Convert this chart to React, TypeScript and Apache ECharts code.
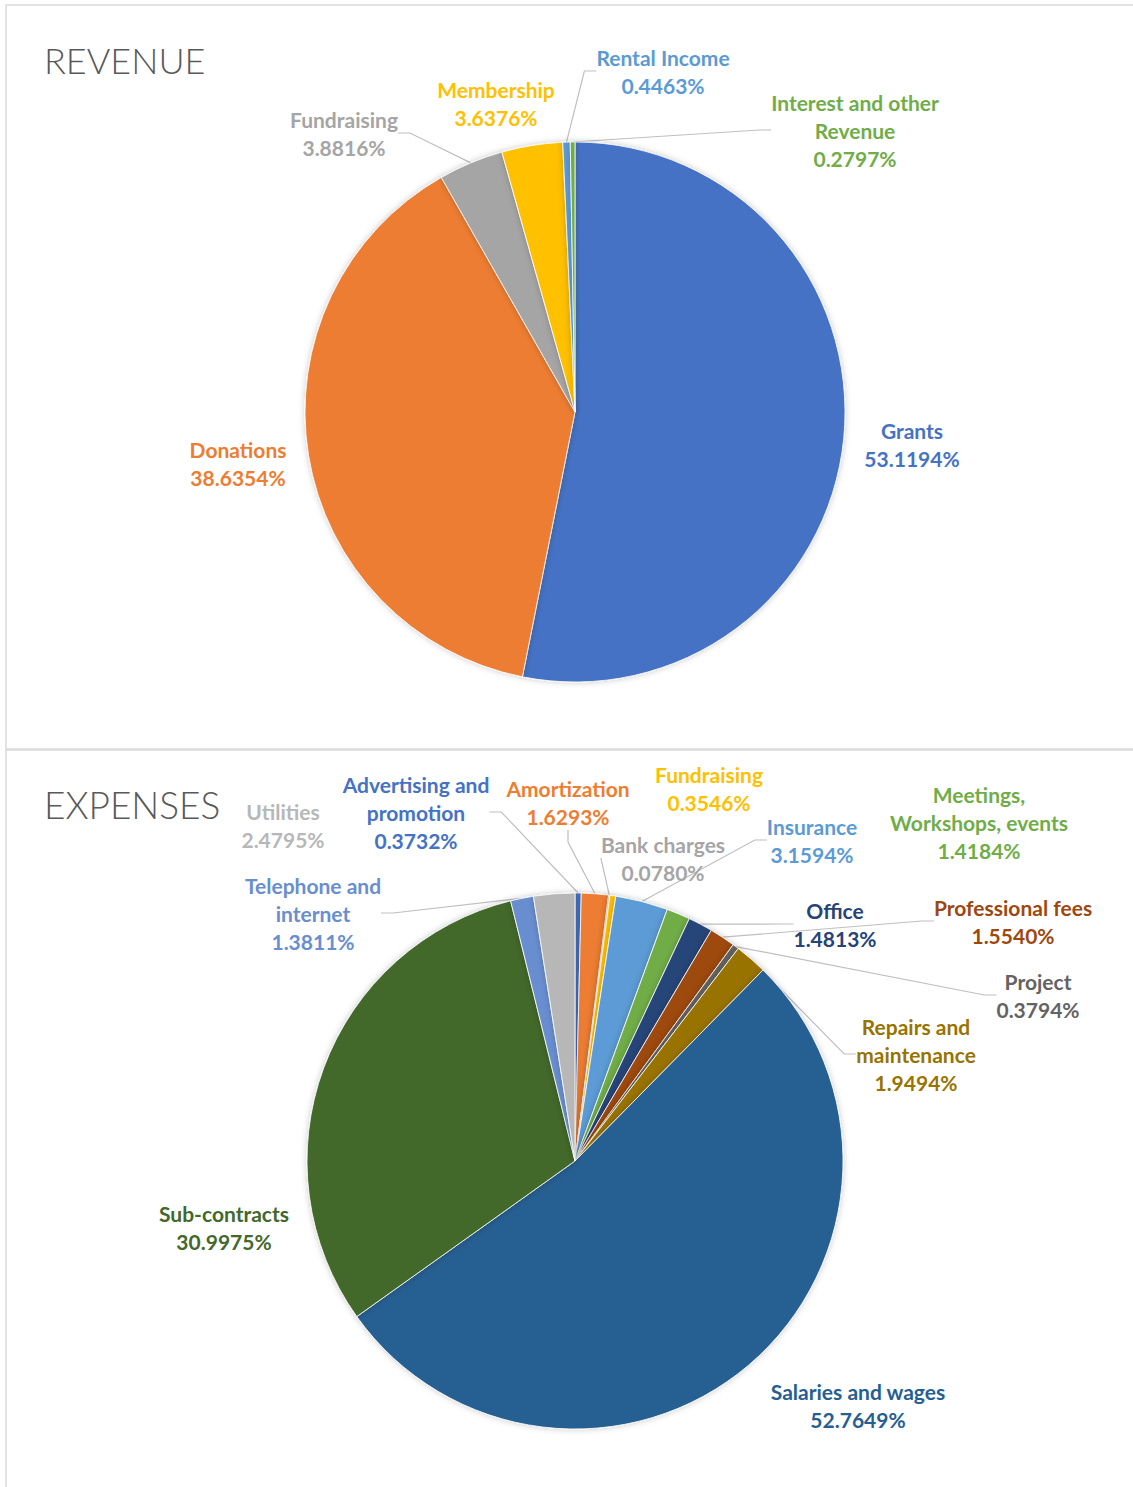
import React, { useEffect, useRef } from "react";
import * as echarts from "echarts";

// ---------- Revenue data ----------
const revenueCategories = [
  "Grants",
  "Donations",
  "Fundraising",
  "Membership",
  "Rental Income",
  "Interest and other Revenue",
];
const revenueValues = [53.1194, 38.6354, 3.8816, 3.6376, 0.4463, 0.2797];
const revenueColors = ["#4472C4", "#ED7D31", "#A5A5A5", "#FFC000", "#5B9BD5", "#70AD47"];

// ---------- Expense data ----------
const expenseCategories = [
  "Advertising and promotion",
  "Amortization",
  "Bank charges",
  "Fundraising",
  "Insurance",
  "Meetings, Workshops, events",
  "Office",
  "Professional fees",
  "Project",
  "Repairs and maintenance",
  "Salaries and wages",
  "Sub-contracts",
  "Telephone and internet",
  "Utilities",
];
const expenseValues = [
  0.3732, 1.6293, 0.078, 0.3546, 3.1594, 1.4184, 1.4813, 1.554, 0.3794, 1.9494, 52.7649,
  30.9975, 1.3811, 2.4795,
];
const expenseColors = [
  "#4472C4",
  "#ED7D31",
  "#A5A5A5",
  "#FFC000",
  "#5B9BD5",
  "#70AD47",
  "#264478",
  "#9E480E",
  "#636363",
  "#997300",
  "#255E91",
  "#43682B",
  "#698ED0",
  "#B7B7B7",
];

// ---------- Label layout (positions of label blocks, not data) ----------
const revenueLabelPos = [
  [912, 444],
  [238, 463],
  [344, 133],
  [496, 103],
  [663, 71],
  [855, 130],
];
const revenueShowLine = [false, false, true, false, true, true];

const expenseLabelPos = [
  [416, 812],
  [568, 802],
  [663, 858],
  [709, 788],
  [812, 840],
  [979, 822],
  [835, 924],
  [1013, 921],
  [1038, 995],
  [916, 1054],
  [858, 1405],
  [224, 1227],
  [313, 913],
  [283, 825],
];
const expenseShowLine = [
  true, true, true, false, true, false, true, true, true, true, false, false, true, false,
];

const WRAP: Record<string, string> = {
  "Interest and other Revenue": "Interest and other\nRevenue",
  "Advertising and promotion": "Advertising and\npromotion",
  "Meetings, Workshops, events": "Meetings,\nWorkshops, events",
  "Repairs and maintenance": "Repairs and\nmaintenance",
  "Telephone and internet": "Telephone and\ninternet",
};

const LABEL_FONT = "Lato, 'Noto Sans', sans-serif";

function buildSeries(
  id: string,
  cats: string[],
  vals: number[],
  colors: string[],
  pos: number[][],
  showLine: boolean[],
  center: [number, number],
  radius: number
) {
  return {
    id,
    type: "pie",
    center,
    radius,
    startAngle: 90,
    clockwise: true,
    silent: true,
    avoidLabelOverlap: false,
    itemStyle: {
      borderColor: "#ffffff",
      borderWidth: 0.8,
      shadowBlur: 6,
      shadowColor: "rgba(0,0,0,0.22)",
    },
    label: {
      show: true,
      position: "outside",
      fontFamily: LABEL_FONT,
      fontSize: 21,
      fontWeight: "bold",
      lineHeight: 28,
      align: "center",
      formatter: (p: any) => `${WRAP[p.name] ?? p.name}\n${Number(p.value).toFixed(4)}%`,
    },
    labelLine: {
      show: true,
      length: 12,
      length2: 12,
      lineStyle: { color: "#BFBFBF", width: 1.2 },
    },
    labelLayout: (params: any) => {
      const p = pos[params.dataIndex];
      return { x: p[0], y: p[1], align: "center", verticalAlign: "middle" };
    },
    data: cats.map((name, i) => ({
      name,
      value: vals[i],
      itemStyle: { color: colors[i] },
      label: { color: colors[i] },
      labelLine: { show: showLine[i] },
    })),
  };
}

export default function App() {
  const ref = useRef<HTMLDivElement>(null);

  useEffect(() => {
    if (!ref.current) return;
    const chart = echarts.init(ref.current, undefined, { renderer: "svg" });
    chart.setOption({
      animation: false,
      backgroundColor: "#ffffff",
      graphic: [
        {
          type: "rect",
          shape: { x: 6, y: 5, width: 1140, height: 744 },
          style: { fill: "none", stroke: "#DADADA", lineWidth: 1.5 },
          silent: true,
        },
        {
          type: "rect",
          shape: { x: 6, y: 750, width: 1140, height: 745 },
          style: { fill: "none", stroke: "#DADADA", lineWidth: 1.5 },
          silent: true,
        },
        {
          type: "text",
          left: 44,
          top: 42,
          style: {
            text: "REVENUE",
            fontFamily: "Lato, 'Open Sans', sans-serif",
            fontSize: 36,
            fontWeight: 300,
            fill: "#595959",
          },
          silent: true,
        },
        {
          type: "text",
          left: 44,
          top: 786,
          style: {
            text: "EXPENSES",
            fontFamily: "Lato, 'Open Sans', sans-serif",
            fontSize: 37,
            fontWeight: 300,
            fill: "#595959",
          },
          silent: true,
        },
      ],
      series: [
        buildSeries(
          "revenue",
          revenueCategories,
          revenueValues,
          revenueColors,
          revenueLabelPos,
          revenueShowLine,
          [575, 412],
          270
        ),
        buildSeries(
          "expenses",
          expenseCategories,
          expenseValues,
          expenseColors,
          expenseLabelPos,
          expenseShowLine,
          [575, 1161],
          268
        ),
      ],
    });
    return () => chart.dispose();
  }, []);

  return (
    <div
      ref={ref}
      style={{ position: "absolute", left: 0, top: 0, width: 1133, height: 1487, background: "#fff" }}
    />
  );
}
